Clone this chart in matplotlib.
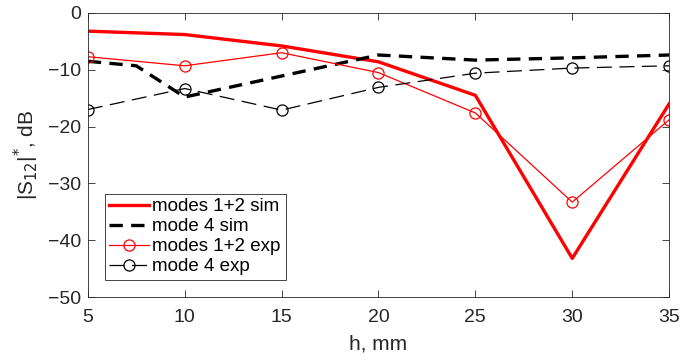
import matplotlib.pyplot as plt

plt.rcParams['font.family'] = ['Liberation Sans', 'DejaVu Sans']

# simulated curves
h_sim12 = [5, 10, 15, 20, 25, 30, 35]
s_sim12 = [-3.2, -3.8, -5.8, -8.6, -14.5, -43.2, -16.0]
h_sim4 = [5, 7.5, 10, 20, 25, 30, 35]
s_sim4 = [-8.5, -9.3, -14.8, -7.4, -8.3, -7.9, -7.4]

# measured curves
h_exp = [5, 10, 15, 20, 25, 30, 35]
s_exp12 = [-7.7, -9.3, -7.0, -10.5, -17.6, -33.3, -18.8]
s_exp4 = [-17.0, -13.3, -17.1, -13.1, -10.6, -9.7, -9.3]

fig = plt.figure(figsize=(6.97, 3.6), dpi=100)
ax = fig.add_axes([0.126, 0.175, 0.834, 0.789])

ax.plot(h_sim12, s_sim12, color='#ff0000', lw=2.4, label='modes 1+2 sim')
ax.plot(h_sim4, s_sim4, color='k', lw=2.4, dashes=(4, 2.5), label='mode 4 sim')
ax.plot(h_exp, s_exp12, color='#ff0000', lw=0.9, marker='o', ms=8,
        mfc='none', mew=0.9, label='modes 1+2 exp')
ax.plot(h_exp, s_exp4, color='k', lw=0.9, marker='o', ms=8,
        mfc='none', mew=0.9, dashes=(12, 6), label='mode 4 exp')

ax.set_xlim(5, 35)
ax.set_ylim(-50, 0)
ax.set_xticks(range(5, 36, 5))
ax.set_yticks(range(-50, 1, 10))
ax.tick_params(direction='in', top=True, right=True, labelsize=14,
               color='#262626', labelcolor='#262626', length=5, width=0.6)
ax.tick_params(axis='x', pad=9)
ax.tick_params(axis='y', pad=5)
for sp in ax.spines.values():
    sp.set_color('#262626')
    sp.set_linewidth(0.6)

ax.set_xlabel('h, mm', fontsize=15, color='#262626', labelpad=6)
ax.set_ylabel('|S$_{12}$|$^{*}$, dB', fontsize=15, color='#262626', labelpad=5)

leg = ax.legend(loc='lower left', bbox_to_anchor=(0.029, 0.06), borderaxespad=0,
                fontsize=13.5, fancybox=False, edgecolor='#262626', framealpha=1,
                handlelength=2.1, borderpad=0.25, labelspacing=0.15,
                handletextpad=0.2)
leg.get_frame().set_linewidth(0.6)

fig.savefig('out.png', dpi=100)
